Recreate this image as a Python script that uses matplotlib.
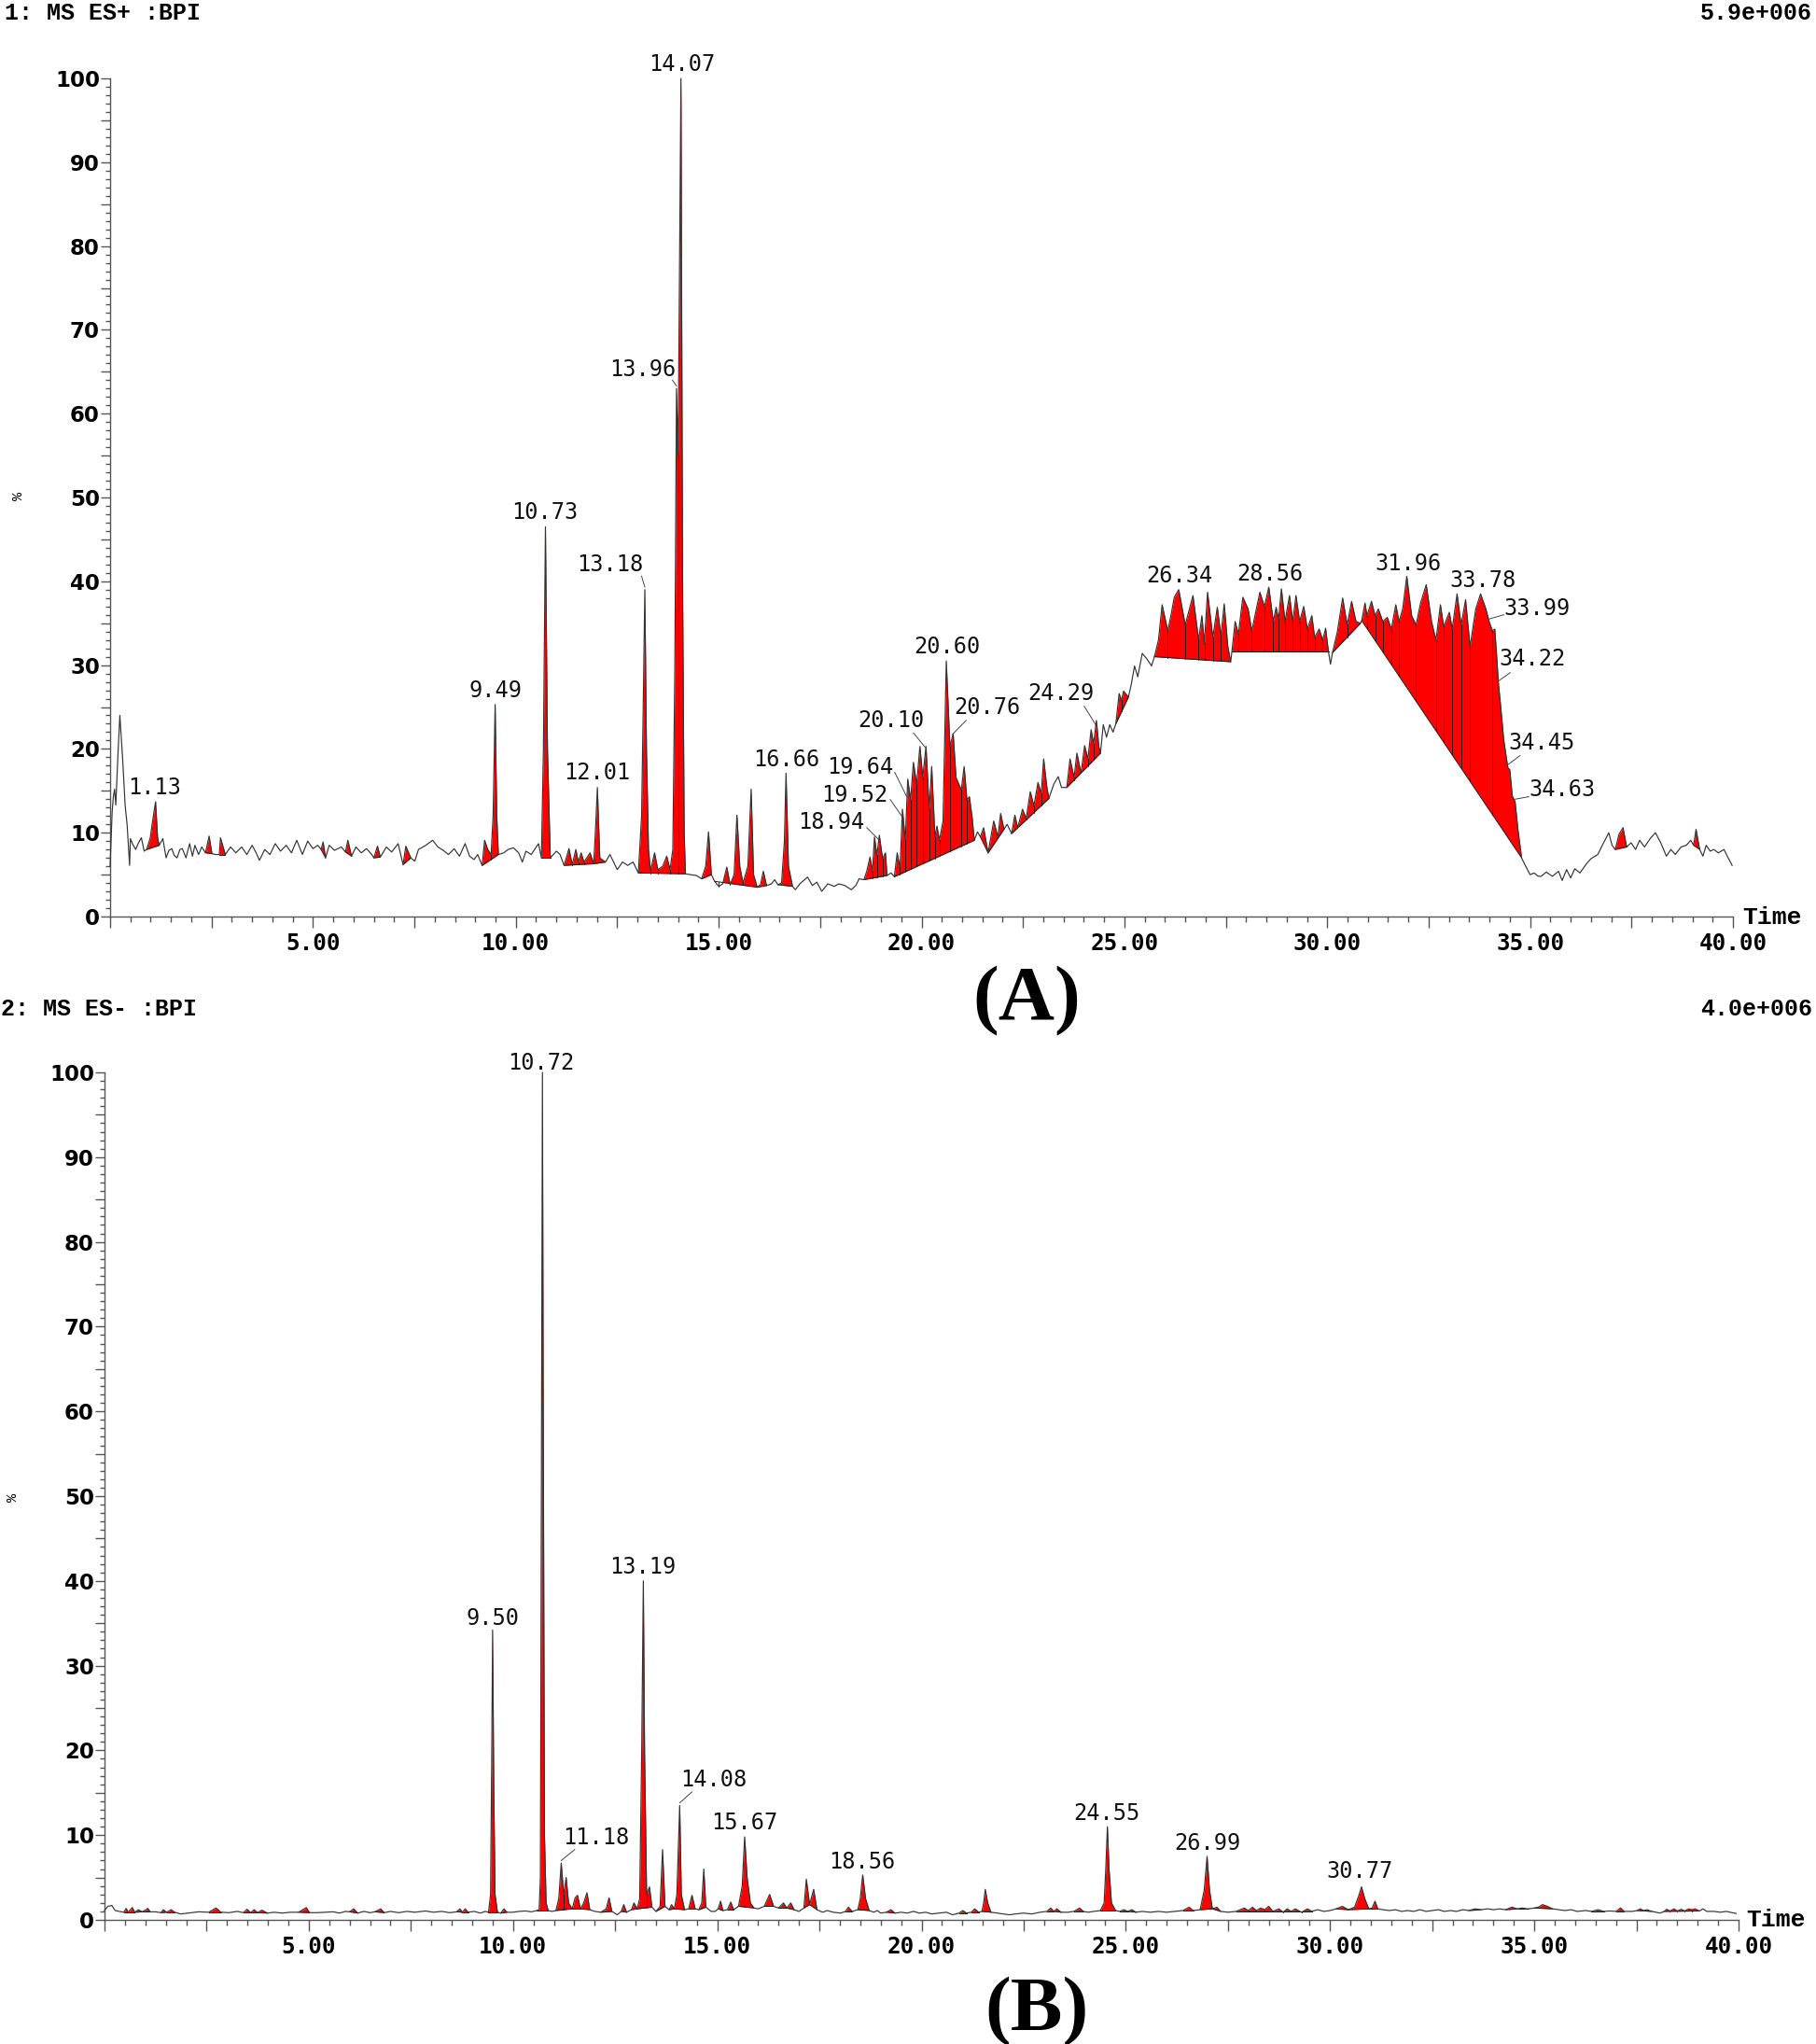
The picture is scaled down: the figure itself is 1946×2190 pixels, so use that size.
import matplotlib
matplotlib.use('Agg')
import matplotlib.pyplot as plt
import numpy as np
from matplotlib.ticker import MultipleLocator, FuncFormatter

# ---- panel A : MS ES+ BPI trace (time min, %)
trace_a = [
    (0.00, 6.0), (0.05, 12.5), (0.08, 14.3), (0.11, 15.2), (0.14, 13.3), (0.19, 19.0), (0.24, 24.0),
    (0.28, 21.0), (0.31, 18.7), (0.37, 13.3), (0.42, 10.9), (0.48, 6.1), (0.50, 9.3), (0.56, 8.6),
    (0.63, 8.0), (0.70, 8.8), (0.77, 9.4), (0.84, 7.8), (0.90, 8.0), (0.99, 9.4), (1.05, 11.5),
    (1.12, 13.7), (1.17, 9.4), (1.21, 8.5), (1.30, 9.3), (1.38, 7.0), (1.45, 7.9), (1.52, 8.1),
    (1.58, 7.3), (1.65, 7.0), (1.72, 8.0), (1.78, 8.1), (1.87, 7.0), (1.96, 8.7), (2.03, 7.2),
    (2.09, 8.5), (2.18, 7.4), (2.26, 8.3), (2.35, 7.6), (2.44, 9.6), (2.51, 7.5), (2.60, 7.4),
    (2.69, 7.4), (2.72, 9.4), (2.84, 7.4), (2.97, 8.3), (3.10, 7.6), (3.24, 8.3), (3.37, 7.4),
    (3.50, 8.5), (3.60, 7.6), (3.68, 6.7), (3.81, 8.0), (3.94, 7.4), (4.07, 8.7), (4.20, 7.8),
    (4.34, 8.5), (4.47, 7.6), (4.60, 9.1), (4.74, 7.4), (4.87, 9.0), (5.00, 8.1), (5.12, 8.5),
    (5.20, 8.0), (5.25, 8.9), (5.31, 7.0), (5.40, 8.5), (5.53, 7.9), (5.70, 8.3), (5.80, 7.7),
    (5.86, 9.1), (5.95, 7.2), (6.06, 8.3), (6.19, 7.6), (6.32, 8.1), (6.45, 7.4), (6.50, 7.0),
    (6.59, 8.4), (6.66, 7.1), (6.81, 8.3), (6.94, 7.7), (7.10, 8.7), (7.22, 6.2), (7.29, 8.4),
    (7.41, 7.0), (7.51, 6.6), (7.60, 8.0), (7.78, 8.5), (7.95, 9.1), (8.08, 8.3), (8.21, 7.9),
    (8.34, 7.4), (8.48, 8.1), (8.61, 7.2), (8.75, 8.7), (8.86, 7.2), (8.97, 6.8), (9.06, 7.4),
    (9.17, 6.1), (9.23, 9.1), (9.31, 8.0), (9.39, 7.4), (9.44, 12.0), (9.49, 25.3), (9.53, 12.0),
    (9.57, 7.4), (9.70, 7.6), (9.81, 8.0), (9.94, 8.2), (10.07, 7.6), (10.16, 6.5), (10.25, 7.8),
    (10.38, 7.4), (10.56, 8.7), (10.63, 7.0), (10.68, 20.0), (10.73, 46.5), (10.78, 20.0),
    (10.85, 7.0), (11.00, 7.8), (11.09, 7.4), (11.19, 6.1), (11.31, 8.1), (11.39, 6.2), (11.48, 8.0),
    (11.54, 6.5), (11.61, 7.6), (11.68, 6.5), (11.83, 7.6), (11.92, 6.3), (11.97, 11.0),
    (12.01, 15.4), (12.07, 7.0), (12.21, 6.5), (12.32, 7.4), (12.50, 5.6), (12.63, 6.5),
    (12.76, 6.1), (12.89, 6.5), (13.02, 5.2), (13.10, 12.0), (13.14, 25.0), (13.18, 39.0),
    (13.22, 20.0), (13.27, 8.0), (13.32, 5.5), (13.42, 7.6), (13.50, 5.6), (13.62, 6.0),
    (13.72, 7.2), (13.80, 5.6), (13.87, 8.0), (13.92, 30.0), (13.96, 63.0), (14.00, 55.0),
    (14.04, 80.0), (14.07, 100.0), (14.11, 40.0), (14.15, 10.0), (14.18, 5.1), (14.30, 5.0),
    (14.45, 4.9), (14.58, 4.5), (14.68, 6.0), (14.75, 10.1), (14.82, 5.0), (14.90, 4.2),
    (15.00, 3.6), (15.10, 3.9), (15.20, 5.9), (15.28, 3.8), (15.38, 5.0), (15.45, 12.1),
    (15.52, 6.0), (15.60, 4.0), (15.72, 6.0), (15.80, 15.2), (15.86, 5.0), (15.95, 3.5),
    (16.03, 3.8), (16.10, 5.4), (16.18, 3.7), (16.30, 3.9), (16.38, 4.4), (16.46, 3.8),
    (16.55, 4.0), (16.62, 9.0), (16.66, 17.1), (16.72, 6.0), (16.82, 3.6), (16.89, 3.2),
    (17.00, 3.9), (17.19, 4.7), (17.31, 3.7), (17.42, 4.1), (17.54, 3.0), (17.69, 3.9),
    (17.85, 3.6), (17.96, 3.9), (18.11, 3.7), (18.27, 3.2), (18.38, 3.7), (18.46, 4.5),
    (18.58, 4.4), (18.65, 5.4), (18.73, 7.1), (18.79, 5.4), (18.84, 9.5), (18.90, 7.3),
    (18.96, 9.7), (19.04, 6.9), (19.11, 7.6), (19.15, 4.9), (19.25, 5.2), (19.33, 4.75),
    (19.40, 7.6), (19.47, 5.8), (19.53, 12.8), (19.60, 9.1), (19.66, 16.4), (19.73, 13.9),
    (19.80, 18.4), (19.88, 15.8), (19.96, 20.3), (20.03, 16.6), (20.11, 20.3), (20.19, 12.8),
    (20.25, 17.9), (20.33, 9.5), (20.38, 10.8), (20.44, 9.1), (20.53, 11.4), (20.61, 30.5),
    (20.70, 20.3), (20.78, 21.8), (20.85, 16.6), (20.92, 15.8), (20.98, 15.1), (21.05, 17.9),
    (21.12, 13.9), (21.18, 14.3), (21.25, 11.7), (21.30, 9.1), (21.38, 10.1), (21.45, 9.5),
    (21.53, 10.6), (21.64, 7.6), (21.78, 11.4), (21.88, 9.5), (21.95, 12.3), (22.03, 10.4),
    (22.11, 11.0), (22.22, 9.9), (22.30, 12.1), (22.37, 10.6), (22.49, 12.8), (22.58, 11.7),
    (22.68, 14.9), (22.77, 13.2), (22.87, 16.0), (22.95, 14.7), (23.01, 18.8), (23.09, 15.4),
    (23.14, 14.1), (23.26, 15.8), (23.37, 16.7), (23.45, 15.4), (23.58, 15.4), (23.66, 18.8),
    (23.76, 16.6), (23.83, 19.5), (23.93, 17.1), (24.02, 20.4), (24.10, 18.8), (24.18, 22.3),
    (24.24, 20.6), (24.31, 23.4), (24.37, 20.3), (24.41, 19.5), (24.48, 22.9), (24.56, 21.4),
    (24.64, 22.9), (24.72, 22.0), (24.79, 23.0), (24.87, 26.6), (24.93, 25.8), (24.98, 26.9),
    (25.10, 26.2), (25.17, 27.7), (25.25, 29.9), (25.33, 28.6), (25.44, 31.4), (25.56, 30.7),
    (25.67, 29.9), (25.74, 31.0), (25.84, 33.0), (25.93, 37.2), (26.07, 34.1), (26.15, 36.0),
    (26.23, 38.1), (26.34, 39.0), (26.50, 34.8), (26.69, 38.3), (26.83, 33.0), (26.91, 35.9),
    (26.97, 32.6), (27.05, 38.7), (27.18, 33.3), (27.29, 36.9), (27.38, 33.5), (27.46, 37.3),
    (27.55, 32.2), (27.62, 30.4), (27.65, 31.6), (27.73, 35.2), (27.81, 33.7), (27.92, 38.1),
    (28.05, 36.7), (28.14, 34.1), (28.34, 38.7), (28.45, 37.0), (28.56, 39.3), (28.67, 35.2),
    (28.74, 36.9), (28.80, 35.5), (28.87, 39.1), (28.96, 35.2), (29.07, 38.3), (29.15, 35.2),
    (29.23, 38.3), (29.32, 35.2), (29.42, 37.0), (29.51, 34.3), (29.62, 35.9), (29.69, 33.3),
    (29.80, 34.3), (29.89, 33.0), (29.96, 34.4), (30.03, 31.6), (30.08, 30.1), (30.13, 31.5),
    (30.25, 34.0), (30.38, 38.0), (30.49, 34.8), (30.60, 37.6), (30.71, 35.2), (30.82, 35.0),
    (30.85, 35.3), (30.93, 37.4), (30.98, 35.9), (31.09, 37.6), (31.18, 35.9), (31.26, 36.7),
    (31.37, 35.2), (31.48, 35.7), (31.58, 34.3), (31.69, 37.2), (31.77, 35.2), (31.86, 36.7),
    (31.96, 40.6), (32.08, 35.9), (32.19, 34.8), (32.30, 37.4), (32.44, 39.6), (32.57, 35.2),
    (32.68, 33.0), (32.79, 37.2), (32.87, 34.6), (33.01, 36.3), (33.08, 34.3), (33.20, 38.5),
    (33.30, 34.8), (33.41, 37.8), (33.52, 32.2), (33.66, 36.7), (33.78, 38.5), (33.91, 36.7),
    (33.99, 35.2), (34.07, 34.1), (34.13, 34.3), (34.17, 31.5), (34.22, 27.8), (34.28, 24.8),
    (34.35, 21.1), (34.45, 17.8), (34.50, 17.5), (34.56, 14.4), (34.63, 13.7), (34.70, 10.4),
    (34.79, 7.0), (34.86, 6.3), (35.00, 5.0), (35.10, 5.2), (35.20, 4.8), (35.27, 4.8),
    (35.40, 5.3), (35.55, 4.8), (35.70, 5.4), (35.79, 4.3), (35.90, 5.6), (36.00, 4.6),
    (36.10, 5.7), (36.23, 5.2), (36.39, 6.3), (36.50, 6.9), (36.67, 7.4), (36.78, 8.5),
    (36.94, 10.0), (37.02, 8.5), (37.10, 8.0), (37.19, 9.8), (37.29, 10.6), (37.38, 8.3),
    (37.49, 8.8), (37.60, 8.0), (37.70, 9.1), (37.82, 8.3), (37.96, 9.3), (38.09, 10.0),
    (38.22, 8.8), (38.36, 7.2), (38.47, 8.0), (38.58, 7.4), (38.72, 8.3), (38.85, 8.5),
    (38.96, 9.1), (39.03, 8.5), (39.09, 10.4), (39.18, 8.0), (39.26, 7.2), (39.34, 8.5),
    (39.44, 7.8), (39.53, 8.0), (39.64, 7.6), (39.78, 8.0), (39.86, 7.2), (39.98, 6.1),
]
# integrated windows (start, end), red areas
groups_a = [
    (0.90, 1.21), (2.35, 2.51), (2.69, 2.84), (5.20, 5.31), (5.80, 5.95), (6.50, 6.66),
    (7.22, 7.41), (9.17, 9.57), (10.63, 10.85), (11.19, 11.92), (11.92, 12.21), (13.02, 14.18),
    (14.58, 14.82), (14.90, 15.95), (15.95, 16.18), (16.46, 16.82), (18.58, 19.15), (19.33, 21.30),
    (21.45, 21.64), (21.64, 22.03), (22.22, 23.14), (23.58, 24.41), (24.79, 25.10), (25.74, 27.62),
    (27.65, 30.03), (30.13, 30.82), (30.85, 34.79), (37.10, 37.38), (39.03, 39.18),
]
labels_a = ['1.13', '9.49', '10.73', '13.18', '13.96', '14.07', '12.01', '16.66', '18.94',
            '19.52', '19.64', '20.10', '20.60', '20.76', '24.29', '26.34', '28.56', '31.96',
            '33.78', '33.99', '34.22', '34.45', '34.63']

# ---- panel B : MS ES- BPI trace
trace_b = [
    (0.00, 1.1), (0.08, 1.6), (0.18, 1.7), (0.26, 1.1), (0.37, 1.0), (0.47, 0.9), (0.53, 1.35),
    (0.58, 0.9), (0.68, 1.45), (0.74, 0.9), (0.83, 1.2), (0.92, 0.95), (1.00, 1.15), (1.06, 1.35),
    (1.12, 0.95), (1.25, 0.95), (1.38, 0.85), (1.44, 1.2), (1.52, 0.9), (1.63, 1.2), (1.72, 0.9),
    (1.86, 0.7), (2.05, 0.8), (2.30, 0.95), (2.55, 0.9), (2.73, 1.4), (2.85, 0.9), (3.05, 0.85),
    (3.25, 1.0), (3.40, 0.85), (3.49, 1.25), (3.58, 0.85), (3.66, 1.2), (3.75, 0.85), (3.85, 1.15),
    (3.99, 0.8), (4.15, 0.9), (4.35, 0.8), (4.55, 0.9), (4.75, 0.9), (4.94, 1.45), (5.02, 0.85),
    (5.20, 0.85), (5.40, 0.9), (5.60, 0.95), (5.75, 0.8), (5.90, 1.0), (6.00, 0.95), (6.10, 1.3),
    (6.20, 0.8), (6.35, 1.0), (6.50, 0.85), (6.62, 0.95), (6.76, 1.3), (6.85, 0.85), (7.00, 1.0),
    (7.20, 0.85), (7.40, 1.0), (7.60, 0.9), (7.86, 1.05), (8.05, 0.9), (8.25, 1.0), (8.45, 0.85),
    (8.62, 0.95), (8.70, 1.3), (8.76, 0.9), (8.83, 1.3), (8.90, 0.9), (9.05, 1.0), (9.20, 0.8),
    (9.32, 1.0), (9.40, 0.9), (9.45, 3.0), (9.48, 20.0), (9.50, 34.2), (9.53, 15.0), (9.56, 3.0),
    (9.62, 0.9), (9.70, 0.8), (9.78, 1.3), (9.85, 0.9), (10.00, 0.9), (10.15, 1.0), (10.30, 1.05),
    (10.45, 0.95), (10.58, 1.1), (10.64, 1.2), (10.67, 5.0), (10.70, 60.0), (10.72, 100.0),
    (10.74, 60.0), (10.77, 10.0), (10.81, 2.0), (10.86, 1.1), (10.95, 1.0), (11.05, 1.1),
    (11.12, 2.5), (11.18, 6.7), (11.24, 3.0), (11.30, 5.0), (11.36, 2.0), (11.45, 1.3),
    (11.52, 2.6), (11.58, 2.9), (11.65, 1.3), (11.73, 2.0), (11.81, 3.2), (11.88, 1.2),
    (12.00, 1.0), (12.15, 0.9), (12.28, 1.3), (12.35, 2.6), (12.42, 1.0), (12.55, 0.6),
    (12.65, 1.0), (12.71, 1.8), (12.78, 0.9), (12.90, 1.2), (12.96, 2.0), (13.04, 1.3),
    (13.10, 2.5), (13.15, 20.0), (13.19, 40.0), (13.22, 20.0), (13.27, 3.0), (13.34, 3.9),
    (13.40, 1.5), (13.50, 1.0), (13.60, 1.6), (13.66, 8.3), (13.72, 1.6), (13.82, 1.2),
    (13.88, 1.8), (13.95, 1.3), (14.01, 3.0), (14.08, 13.5), (14.12, 3.0), (14.20, 1.2),
    (14.30, 1.3), (14.38, 2.9), (14.46, 1.3), (14.55, 1.2), (14.62, 2.0), (14.67, 6.0),
    (14.72, 1.5), (14.85, 1.0), (14.95, 1.0), (15.02, 1.3), (15.08, 2.2), (15.14, 1.1),
    (15.25, 1.2), (15.33, 2.1), (15.40, 1.2), (15.52, 1.6), (15.61, 4.0), (15.67, 9.8),
    (15.73, 5.0), (15.81, 2.0), (15.90, 1.4), (16.00, 1.3), (16.15, 1.6), (16.28, 3.0),
    (16.38, 1.6), (16.50, 1.4), (16.62, 2.0), (16.70, 1.4), (16.80, 2.0), (16.88, 1.2),
    (17.00, 1.0), (17.12, 1.4), (17.18, 4.8), (17.26, 1.8), (17.36, 3.6), (17.44, 1.2),
    (17.58, 0.9), (17.69, 1.1), (17.84, 0.9), (18.02, 0.8), (18.14, 1.0), (18.21, 1.5),
    (18.30, 1.0), (18.44, 1.2), (18.50, 2.5), (18.56, 5.3), (18.63, 2.5), (18.72, 1.1),
    (18.83, 0.9), (18.92, 1.1), (19.00, 0.8), (19.14, 0.9), (19.25, 1.2), (19.35, 0.8),
    (19.50, 0.9), (19.65, 0.8), (19.80, 1.0), (19.95, 0.8), (20.10, 0.9), (20.25, 0.7),
    (20.42, 0.8), (20.61, 0.9), (20.76, 0.6), (20.92, 0.8), (21.01, 1.1), (21.10, 0.8),
    (21.22, 0.9), (21.30, 1.3), (21.40, 0.9), (21.48, 1.0), (21.52, 2.0), (21.56, 3.6),
    (21.62, 2.0), (21.70, 0.9), (21.85, 0.8), (22.00, 0.7), (22.15, 0.6), (22.30, 0.7),
    (22.50, 0.8), (22.70, 0.7), (22.90, 0.9), (23.07, 1.0), (23.16, 1.4), (23.24, 1.0),
    (23.31, 1.3), (23.42, 0.9), (23.58, 0.9), (23.73, 1.0), (23.87, 1.4), (23.96, 1.0),
    (24.08, 0.9), (24.22, 1.0), (24.38, 1.1), (24.47, 2.0), (24.51, 6.0), (24.55, 11.0),
    (24.59, 6.0), (24.65, 2.0), (24.75, 1.1), (24.85, 1.0), (24.95, 1.2), (25.05, 1.0),
    (25.15, 1.2), (25.25, 0.9), (25.40, 1.0), (25.60, 0.9), (25.80, 1.0), (26.00, 0.9),
    (26.20, 1.0), (26.40, 1.1), (26.55, 1.5), (26.65, 1.1), (26.82, 1.2), (26.92, 3.5),
    (26.99, 7.5), (27.05, 3.5), (27.12, 1.3), (27.23, 1.5), (27.32, 1.0), (27.50, 0.9),
    (27.70, 1.0), (27.90, 1.4), (28.00, 1.1), (28.10, 1.5), (28.20, 1.1), (28.30, 1.4),
    (28.40, 1.2), (28.50, 1.6), (28.60, 1.0), (28.75, 1.3), (28.85, 0.9), (28.95, 1.3),
    (29.05, 1.0), (29.15, 1.3), (29.30, 0.9), (29.45, 1.3), (29.55, 1.0), (29.70, 1.2),
    (29.85, 1.0), (30.00, 1.1), (30.15, 1.3), (30.30, 1.6), (30.45, 1.2), (30.60, 1.5),
    (30.70, 2.8), (30.77, 3.9), (30.85, 2.5), (30.95, 1.3), (31.03, 1.4), (31.10, 2.2),
    (31.17, 1.3), (31.30, 1.2), (31.45, 1.1), (31.60, 1.2), (31.75, 1.0), (31.90, 1.1),
    (32.05, 1.0), (32.20, 1.2), (32.35, 1.0), (32.50, 1.1), (32.65, 1.2), (32.80, 1.0),
    (32.95, 1.1), (33.10, 1.0), (33.25, 1.2), (33.40, 1.1), (33.55, 1.3), (33.70, 1.2),
    (33.85, 1.3), (34.00, 1.2), (34.15, 1.3), (34.30, 1.2), (34.45, 1.5), (34.58, 1.3),
    (34.70, 1.4), (34.85, 1.3), (35.00, 1.4), (35.10, 1.5), (35.20, 1.8), (35.32, 1.6),
    (35.45, 1.3), (35.60, 1.2), (35.75, 1.1), (35.90, 1.2), (36.05, 1.0), (36.26, 1.1),
    (36.40, 1.0), (36.56, 1.2), (36.70, 1.0), (36.85, 1.05), (37.00, 1.0), (37.11, 1.4),
    (37.20, 1.0), (37.40, 1.0), (37.52, 1.1), (37.59, 1.3), (37.68, 1.1), (37.76, 1.2),
    (37.88, 1.0), (38.08, 0.8), (38.18, 1.0), (38.24, 1.25), (38.32, 1.05), (38.42, 1.3),
    (38.50, 1.05), (38.60, 1.25), (38.68, 1.05), (38.78, 1.3), (38.86, 1.2), (38.94, 1.3),
    (39.04, 1.05), (39.13, 1.3), (39.22, 1.0), (39.40, 1.0), (39.55, 0.9), (39.70, 1.0),
    (39.85, 0.85), (39.94, 0.75),
]
groups_b = [
    (0.47, 0.58), (0.58, 0.74), (0.74, 0.92), (0.92, 1.12), (1.38, 1.52), (1.52, 1.72),
    (2.55, 2.85), (3.40, 3.58), (3.58, 3.75), (3.75, 3.99), (4.75, 5.02), (6.00, 6.20),
    (6.62, 6.85), (8.62, 8.76), (8.76, 8.90), (9.40, 9.62), (9.70, 9.85), (10.58, 10.86),
    (11.05, 11.45), (11.45, 11.65), (11.65, 11.88), (12.15, 12.42), (12.65, 12.78), (12.90, 13.04),
    (13.04, 13.40), (13.50, 13.72), (13.82, 13.95), (13.95, 14.20), (14.30, 14.46), (14.55, 14.72),
    (15.02, 15.14), (15.25, 15.40), (15.52, 15.90), (16.15, 16.38), (16.50, 16.70), (16.70, 16.88),
    (17.12, 17.26), (17.26, 17.44), (18.14, 18.30), (18.44, 18.72), (19.14, 19.35), (20.92, 21.10),
    (21.22, 21.40), (21.48, 21.70), (23.07, 23.24), (23.24, 23.42), (23.73, 23.96), (24.38, 24.75),
    (24.85, 25.05), (25.05, 25.25), (26.40, 26.65), (26.82, 27.12), (27.12, 27.32), (27.70, 28.60),
    (28.60, 29.05), (29.05, 29.55), (30.15, 30.45), (30.45, 30.95), (30.95, 31.17), (33.40, 33.70),
    (34.30, 34.58), (34.58, 34.85), (35.00, 35.45), (36.40, 36.70), (37.00, 37.20), (37.52, 37.88),
    (38.18, 39.04),
]
labels_b = ['9.50', '10.72', '11.18', '13.19', '14.08', '15.67', '18.56', '24.55', '26.99', '30.77']

# label text centres (data coords) and leader start points
label_pos_a = [(1.10, 15.4), (9.49, 26.9), (10.72, 48.2), (12.33, 42.0), (13.13, 65.3), (14.10, 101.7),
               (12.00, 17.1), (16.67, 18.7), (17.77, 11.3), (18.35, 14.5), (18.48, 17.85), (19.26, 23.4),
               (20.63, 32.2), (21.63, 24.9), (23.44, 26.6), (26.36, 40.6), (28.58, 40.9), (31.99, 42.1),
               (33.83, 40.1), (35.16, 36.7), (35.06, 30.7), (35.28, 20.7), (35.80, 15.1)]
leader_a = [None, None, None, (13.10, 40.6), (13.86, 64.0), None, None, None, (18.65, 10.6),
            (19.23, 13.95), (19.34, 17.2), (19.80, 21.9), None, (21.10, 23.4), (24.01, 25.1), None, None,
            None, None, (34.35, 36.0), (34.51, 29.1), (34.75, 19.2), (34.97, 14.3)]
label_pos_b = [(9.50, 35.6), (10.69, 101.1), (12.04, 9.7), (13.18, 41.6), (14.92, 16.5), (15.66, 11.4),
               (18.54, 6.8), (24.54, 12.5), (26.99, 9.0), (30.73, 5.7)]
leader_b = [None, None, (11.51, 8.3), None, (14.38, 15.1), None, None, None, None, None]

RED = '#ff0000'
EDGE = '#1a1a1a'
AXC = '#555555'


def draw_panel(ax, trace, groups, labels, label_pos, leaders):
    t = np.array([p[0] for p in trace])
    y = np.array([p[1] for p in trace])
    for t0, t1 in groups:
        b0, b1 = np.interp([t0, t1], t, y)
        inside = (t > t0) & (t < t1)
        tt = np.concatenate([[t0], t[inside], [t1]])
        yy = np.concatenate([[b0], y[inside], [b1]])
        base = b0 + (b1 - b0) * (tt - t0) / (t1 - t0)
        ax.fill_between(tt, base, np.maximum(yy, base), color=RED, lw=0, zorder=2)
        ax.plot([t0, t1], [b0, b1], color=EDGE, lw=0.7, zorder=3)
        for i in range(1, len(tt) - 1):
            if yy[i] < yy[i - 1] and yy[i] < yy[i + 1]:
                ax.plot([tt[i], tt[i]], [base[i], yy[i]], color=EDGE, lw=0.6, zorder=3)
    ax.plot(t, y, color='#333333', lw=0.85, zorder=4, clip_on=False)

    for lab, (tx, ty), lead in zip(labels, label_pos, leaders):
        tp = float(lab)
        yp = np.interp(tp, t, y)
        ax.text(tx, ty, lab, ha='center', va='center', fontsize=17,
                family=['DejaVu Sans Mono'], color='#111111', zorder=5)
        if lead is not None:
            ax.plot([lead[0], tp], [lead[1], yp + 0.3], color='#444444', lw=0.7,
                    zorder=5, clip_on=False)

    ax.set_xlim(0, 40)
    ax.set_ylim(0, 100)
    for s in ['top', 'right']:
        ax.spines[s].set_visible(False)
    for s in ['left', 'bottom']:
        ax.spines[s].set_color(AXC)
        ax.spines[s].set_linewidth(1.0)
    ax.xaxis.set_major_locator(MultipleLocator(2.5))
    ax.xaxis.set_minor_locator(MultipleLocator(0.5))
    ax.xaxis.set_major_formatter(FuncFormatter(
        lambda v, p: f'{v:.2f}' if v > 0 and abs(v / 5 - round(v / 5)) < 1e-6 else ''))
    ax.yaxis.set_major_locator(MultipleLocator(5))
    ax.yaxis.set_minor_locator(MultipleLocator(1))
    ax.yaxis.set_major_formatter(FuncFormatter(
        lambda v, p: f'{int(round(v))}' if int(round(v)) % 10 == 0 else ''))
    ax.tick_params(axis='x', which='major', length=8.5, width=1, color=AXC, pad=4)
    ax.tick_params(axis='x', which='minor', length=4.3, width=1, color=AXC)
    ax.tick_params(axis='y', which='major', length=7, width=1, color=AXC, pad=1)
    ax.tick_params(axis='y', which='minor', length=3.6, width=1, color=AXC)
    plt.setp(ax.get_xticklabels(), family=['DejaVu Sans Mono'], fontweight='bold', fontsize=17.5)
    plt.setp(ax.get_yticklabels(), family=['DejaVu Sans'], fontweight='bold', fontsize=16.5)


W, H = 1946, 2190
fig = plt.figure(figsize=(W / 100, H / 100), dpi=100)

axA = fig.add_axes([118 / W, 1 - 982 / H, (1857 - 118) / W, (982 - 84) / H])
draw_panel(axA, trace_a, groups_a, labels_a, label_pos_a, leader_a)
axB = fig.add_axes([112 / W, 1 - 2057 / H, (1863 - 112) / W, (2057 - 1149) / H])
draw_panel(axB, trace_b, groups_b, labels_b, label_pos_b, leader_b)

mono = dict(family=['Liberation Mono'], fontweight='bold', fontsize=18, va='center')
fig.text(5 / W, 1 - 14 / H, '1: MS ES+ :BPI', ha='left', **mono)
fig.text(1942 / W, 1 - 14 / H, '5.9e+006', ha='right', **mono)
fig.text(1 / W, 1 - 1081 / H, '2: MS ES- :BPI', ha='left', **mono)
fig.text(1942 / W, 1 - 1081 / H, '4.0e+006', ha='right', **mono)
fig.text(1867 / W, 1 - 983 / H, 'Time', ha='left', fontsize=19,
         family=['Liberation Mono'], fontweight='bold', va='center')
fig.text(1871 / W, 1 - 2057 / H, 'Time', ha='left', fontsize=19,
         family=['Liberation Mono'], fontweight='bold', va='center')
fig.text(20 / W, 1 - 531 / H, '%', rotation=90, ha='center', va='center', fontsize=11,
         family=['Liberation Mono'])
fig.text(14 / W, 1 - 1604 / H, '%', rotation=90, ha='center', va='center', fontsize=11,
         family=['Liberation Mono'])
fig.text(1100 / W, 1 - 1073 / H, '(A)', ha='center', va='center', fontsize=60,
         family=['Liberation Serif'], fontweight='bold')
fig.text(1111 / W, 1 - 2156 / H, '(B)', ha='center', va='center', fontsize=60,
         family=['Liberation Serif'], fontweight='bold')

fig.savefig('out.png', dpi=100, facecolor='white')
